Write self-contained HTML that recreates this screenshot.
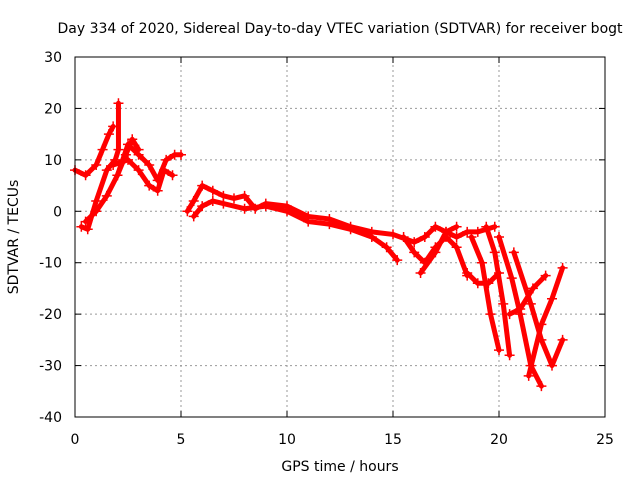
<!DOCTYPE html>
<html><head><meta charset="utf-8"><style>
body{margin:0;background:#fff}
svg{display:block;font-family:"DejaVu Sans","Liberation Sans",sans-serif;font-size:14px}
</style></head><body>
<svg id="chart" width="640" height="480">
<text x="340" y="33" text-anchor="middle">Day 334 of 2020, Sidereal Day-to-day VTEC variation (SDTVAR) for receiver bogt</text>
<text x="340" y="471" text-anchor="middle">GPS time / hours</text>
<text transform="translate(18,237) rotate(-90)" text-anchor="middle">SDTVAR / TECUs</text>
<g id="grid"></g><g id="ticks"></g><g id="marks"></g>
<rect x="75" y="57" width="530" height="360" fill="none" stroke="#000"/>
</svg>
<script>
const xTicks=[0,5,10,15,20,25];
const yTicks=[30,20,10,0,-10,-20,-30,-40];
const tracks=[
[[0,8],[0.5,7],[1,9],[1.3,12],[1.6,15],[1.8,16.5]],
[[0.3,-3],[0.6,-3.5],[1,2],[1.5,8],[1.9,10],[2.05,12],[2.05,21]],
[[0.5,-2],[1,0],[1.5,3],[2,7],[2.4,11],[2.7,14],[3,12]],
[[2,7],[2.5,13],[3,11],[3.5,9],[3.9,6],[4.3,10],[4.7,11],[5,11]],
[[1.8,9],[2.5,10],[3,8],[3.5,5],[3.9,4],[4.2,8],[4.6,7]],
[[5.3,0],[5.6,2],[6,5],[6.5,4],[7,3],[7.5,2.5],[8,3],[8.5,0.5],[9,1.5],[10,1],[11,-1],[12,-1.5],[13,-3],[14,-4],[15,-4.5],[16,-6],[16.5,-5],[17,-3],[17.5,-4],[18,-5],[18.5,-4],[19,-4],[19.8,-3]],
[[5.6,-1],[6,1],[6.5,2],[7,1.5],[8,0.5],[9,1],[10,0],[11,-2],[12,-2.5],[13,-3.5],[14,-5],[14.7,-7],[15.2,-9.5]],
[[15.5,-5],[16,-8],[16.5,-10],[17,-7],[17.5,-5],[18,-7],[18.5,-12.5]],
[[16.3,-12],[17,-8],[17.5,-4],[18,-3]],
[[18.5,-12],[19,-14],[19.5,-14],[20,-12]],
[[18.7,-5],[19.2,-10],[19.6,-20],[20,-27]],
[[19.4,-3],[19.8,-8],[20.2,-18],[20.5,-28]],
[[20,-5],[20.6,-13],[21,-20],[21.5,-30],[22,-34]],
[[20.7,-8],[21.5,-18],[22,-25],[22.5,-30],[23,-25]],
[[20.5,-20],[21,-19],[21.6,-15],[22.2,-12.5]],
[[21.4,-32],[22,-22],[22.5,-17],[23,-11]]
];
const X0=75,X1=605,Y0=417,Y1=57;
const sx=v=>X0+(v-0)/25*(X1-X0);
const sy=v=>Y0-(v+40)/70*(Y0-Y1);
const NS="http://www.w3.org/2000/svg";
const grid=document.getElementById('grid'),tk=document.getElementById('ticks'),mk=document.getElementById('marks');
function mkEl(t,a,p){const e=document.createElementNS(NS,t);for(const k in a)e.setAttribute(k,a[k]);p.appendChild(e);return e;}
xTicks.forEach(v=>{const x=sx(v);
 if(v>0&&v<25){const g=mkEl('line',{x1:x,x2:x,y1:Y0,y2:Y1,stroke:'#999','stroke-dasharray':'2,3'},grid);
 
 }
 const t=mkEl('text',{x:x,y:Y0+27,'text-anchor':'middle'},tk);t.textContent=v;
 
 
 mkEl('line',{x1:x,x2:x,y1:Y0,y2:Y0-6,stroke:'#000'},tk);mkEl('line',{x1:x,x2:x,y1:Y1,y2:Y1+6,stroke:'#000'},tk);});
yTicks.forEach(v=>{const y=sy(v);
 if(v>-40&&v<30){const g=mkEl('line',{x1:X0,x2:X1,y1:y,y2:y,stroke:'#999','stroke-dasharray':'2,3'},grid);
 
 }
 const t=mkEl('text',{x:X0-13,y:y+5,'text-anchor':'end'},tk);t.textContent=v;
 
 
 mkEl('line',{x1:X0,x2:X0+6,y1:y,y2:y,stroke:'#000'},tk);mkEl('line',{x1:X1,x2:X1-6,y1:y,y2:y,stroke:'#000'},tk);});
tracks.forEach(tr=>{
 const p=mkEl('polyline',{points:tr.map(d=>sx(d[0])+','+sy(d[1])).join(' '),fill:'none',stroke:'#f00','stroke-width':5,'stroke-linejoin':'round','stroke-linecap':'round'},mk);
 
 
 tr.forEach(d=>{const x=sx(d[0]),y=sy(d[1]);
  const c=mkEl('path',{d:`M${x-5},${y}H${x+5}M${x},${y-5}V${y+5}`,stroke:'#f00','stroke-width':1.5},mk);
  
  });
});
</script>
</body></html>
